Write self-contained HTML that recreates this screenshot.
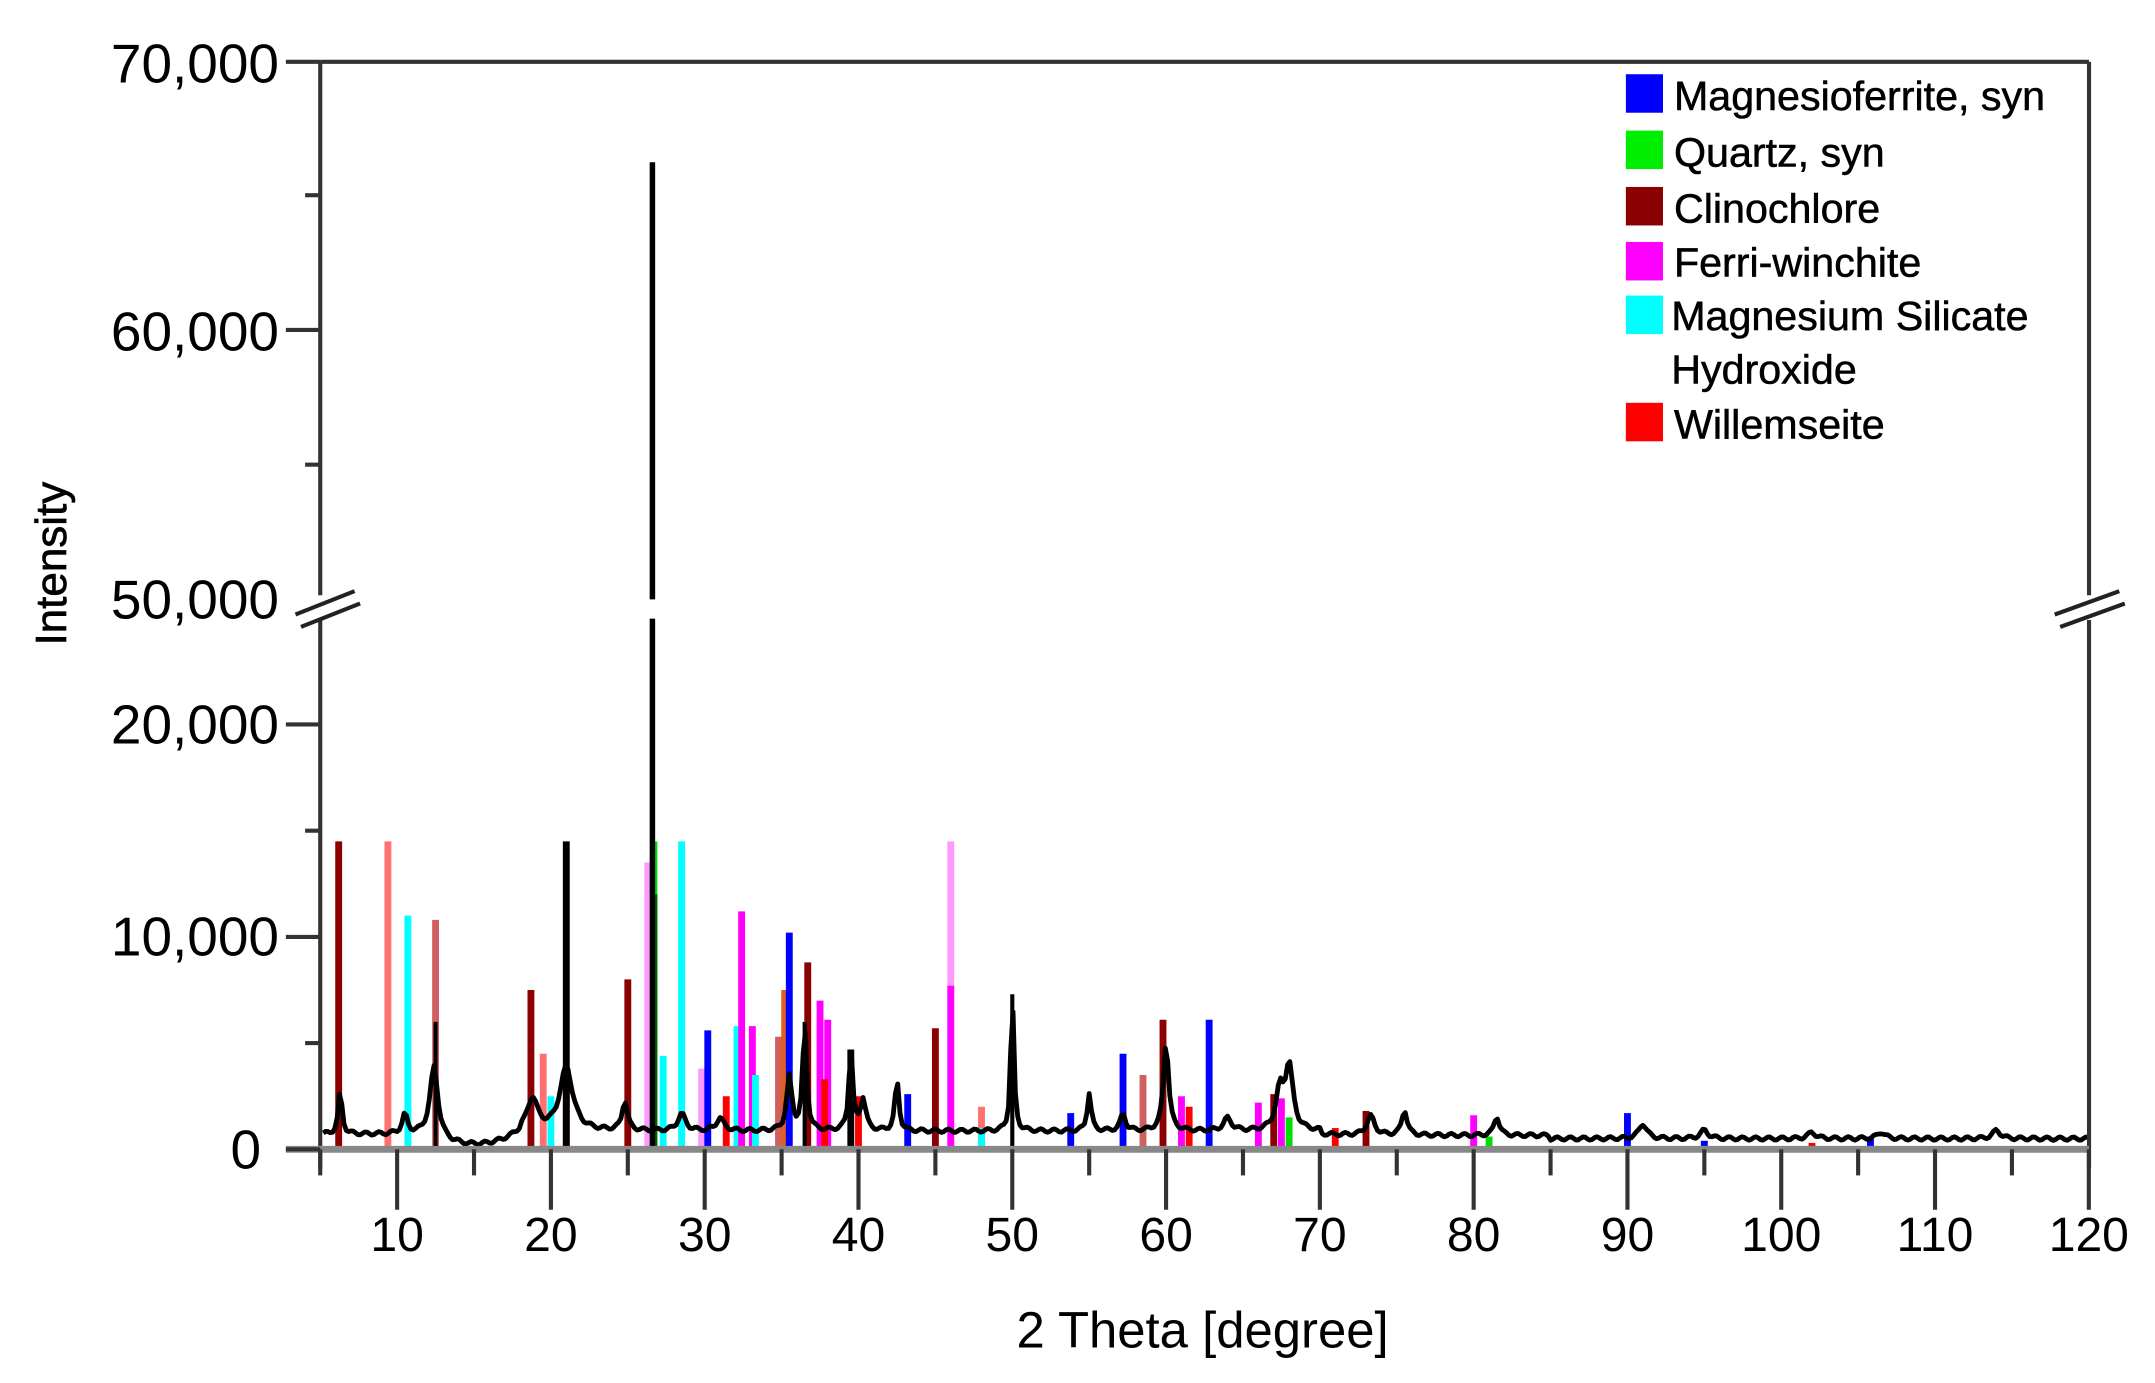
<!DOCTYPE html>
<html><head><meta charset="utf-8"><style>
html,body{margin:0;padding:0;background:#fff;}
svg{display:block;}
text{font-family:"Liberation Sans",Arial,sans-serif;fill:#000;}
</style></head><body>
<svg id="s" width="2155" height="1383" viewBox="0 0 1568 1006" preserveAspectRatio="none" xmlns="http://www.w3.org/2000/svg">
<rect width="1568" height="1006" fill="#fff"/>
<g id="sticks"></g>
<path id="prof" fill="none" stroke="#000" stroke-width="3.5" stroke-linejoin="round"/>
<g id="axes" stroke="#333" fill="none">
<line x1="233" y1="45" x2="1520" y2="45" stroke-width="3"/>
<line x1="233" y1="45" x2="233" y2="850" stroke-width="3"/>
<line x1="1520" y1="45" x2="1520" y2="850" stroke-width="3"/>
<line x1="208" y1="836" x2="1520" y2="836" stroke="#888" stroke-width="5"/>
</g>
<g id="ticks" stroke="#333" stroke-width="3"></g>
<g id="break" stroke="#222" stroke-width="3">
<rect x="212" y="433" width="52" height="18" fill="#fff" stroke="none"/>
<line x1="215" y1="447" x2="258" y2="430"/><line x1="219" y1="456" x2="262" y2="439"/>
<rect x="1492" y="433" width="56" height="18" fill="#fff" stroke="none"/>
<line x1="1495" y1="447" x2="1542" y2="430"/><line x1="1499" y1="456" x2="1546" y2="439"/>
</g>
<g font-size="40" text-anchor="end">
<text x="203" y="60">70,000</text>
<text x="203" y="255">60,000</text>
<text x="203" y="450">50,000</text>
<text x="203" y="541">20,000</text>
<text x="203" y="695">10,000</text>
<text x="190" y="850">0</text>
</g>
<g id="xl" font-size="35" text-anchor="middle"></g>
<text x="875" y="980" font-size="37" text-anchor="middle">2 Theta [degree]</text>
<text transform="translate(48,410) rotate(-90)" font-size="32" text-anchor="middle" stroke="#000" stroke-width="0.5">Intensity</text>
<g font-size="30" stroke="#000" stroke-width="0.4">
<rect x="1183" y="54" width="27" height="28" fill="#0000ff" stroke="none"/><text x="1218" y="80">Magnesioferrite, syn</text>
<rect x="1183" y="95" width="27" height="28" fill="#00ee00" stroke="none"/><text x="1218" y="121">Quartz, syn</text>
<rect x="1183" y="136" width="27" height="28" fill="#8b0000" stroke="none"/><text x="1218" y="162">Clinochlore</text>
<rect x="1183" y="176" width="27" height="28" fill="#ff00ff" stroke="none"/><text x="1218" y="201">Ferri-winchite</text>
<rect x="1183" y="215" width="27" height="28" fill="#00ffff" stroke="none"/><text x="1216" y="240">Magnesium Silicate</text>
<text x="1216" y="279">Hydroxide</text>
<rect x="1183" y="293" width="27" height="28" fill="#ff0000" stroke="none"/><text x="1218" y="319">Willemseite</text>
</g>
</svg>
<script>
var NS="http://www.w3.org/2000/svg";
function X(t){return 233+(t-5)*11.19;}
function Y(v){return v<=25000?836-v*0.01545:436-(v-50000)*0.0196;}
function el(p,n,a){var e=document.createElementNS(NS,n);for(var k in a)e.setAttribute(k,a[k]);p.appendChild(e);return e;}
var tk=document.getElementById('ticks');
for(var t=5;t<=120;t+=5){var major=t%10==0;el(tk,'line',{x1:X(t),y1:836,x2:X(t),y2:major?880:855});}
[[0,1],[5000,0],[10000,1],[15000,0],[20000,1],[55000,0],[60000,1],[65000,0],[70000,1]].forEach(function(a){var y=a[0]==70000?45:Y(a[0]);el(tk,'line',{x1:a[1]?208:222,y1:y,x2:233,y2:y});});
var xl=document.getElementById('xl');
for(var t=10;t<=120;t+=10){var e=el(xl,'text',{x:X(t),y:910});e.textContent=t;}
var C={b:'#0000ff',g:'#00dd00',dg:'#006400',c:'#8b0000',cl:'#d06060',m:'#ff00ff',ml:'#ff99ff',cy:'#00ffff',r:'#ff0000',rl:'#ff7070',k:'#000'};
var S=[['c',6.2,14500],['rl',9.4,14500],['cy',10.7,11000],['cl',12.5,10800],['c',18.7,7500],['rl',19.5,4500],['cy',20,2500],['r',21,3700],['k',21,14500],['c',25,8000],['ml',26.3,13500],['g',26.7,14500],['dg',26.7,12000],['cy',27.3,4400],['cy',28.5,14500],['ml',29.8,3800],['b',30.2,5600],['r',31.4,2500],['cy',32.1,5800],['m',32.4,11200],['m',33.1,5800],['cy',33.3,3500],['cl',34.8,5300],['#e06020',35.2,7500],['b',35.5,10200],['c',36.7,8800],['m',37.5,7000],['m',38,6100],['r',37.8,3300],['k',39.5,4700],['r',40,2500],['b',43.2,2600],['c',45,5700],['ml',46,14500],['m',46,7700],['rl',48,2000],['cy',48,1000],['b',53.8,1700],['b',57.2,4500],['cl',58.5,3500],['c',59.8,6100],['m',61,2500],['r',61.5,2000],['b',62.8,6100],['m',66,2200],['c',67,2600],['m',67.5,2400],['g',68,1500],['c',73,1800],['r',71,1000],['m',80,1600],['g',81,600],['b',90,1700],['b',105.8,600],['r',102,300],['b',95,400]];
var sg=document.getElementById('sticks');
S.forEach(function(s){var col=C[s[0]]||s[0];el(sg,'line',{x1:X(s[1]),x2:X(s[1]),y1:836,y2:Y(s[2]),stroke:col,'stroke-width':5});});
var P=[[6.3,2000,.15],[10.5,900,.2],[12.4,3300,.3],[18.8,1500,.4],[21,3000,.5],[24.8,1400,.2],[26.6,0,.1],[28.5,800,.3],[31,600,.3],[36.5,5000,.15],[35.5,2500,.2],[39.5,3800,.15],[40.3,1500,.2],[42.5,2400,.15],[50,6500,.12],[55,1800,.15],[57.2,800,.2],[60,4200,.2],[64,600,.3],[68,3000,.3],[67.4,1800,.3],[73.3,900,.3],[75.5,1200,.2],[81.5,900,.2],[91,700,.3],[95,400,.3],[102,300,.3],[106.5,300,.3],[114,400,.3]];
function base(t){if(t<12)return 700;if(t<18){var d=(t-15)/3;return 200+500*d*d;}if(t<70)return 850;if(t<85)return 650;return 500;}
var d='';for(var t=5.2;t<=120;t+=0.15){var v=base(t);P.forEach(function(p){var w=p[2];v+=p[1]/(1+Math.pow((t-p[0])/w,2));});v=Math.max(0,v+(Math.sin(t*7.3)*80));d+=(d?'L':'M')+X(t).toFixed(1)+' '+Y(v).toFixed(1);}
document.getElementById('prof').setAttribute('d',d);
el(sg,'line',{x1:X(26.6),x2:X(26.6),y1:836,y2:450,stroke:'#000','stroke-width':4});
el(sg,'line',{x1:X(26.6),x2:X(26.6),y1:436,y2:118,stroke:'#000','stroke-width':4});
el(sg,'line',{x1:X(50),x2:X(50),y1:836,y2:Y(7300),stroke:'#000','stroke-width':3});
el(sg,'line',{x1:X(12.5),x2:X(12.5),y1:836,y2:Y(6000),stroke:'#000','stroke-width':3});
el(sg,'line',{x1:X(36.5),x2:X(36.5),y1:836,y2:Y(6000),stroke:'#000','stroke-width':3});
</script>
</body></html>
